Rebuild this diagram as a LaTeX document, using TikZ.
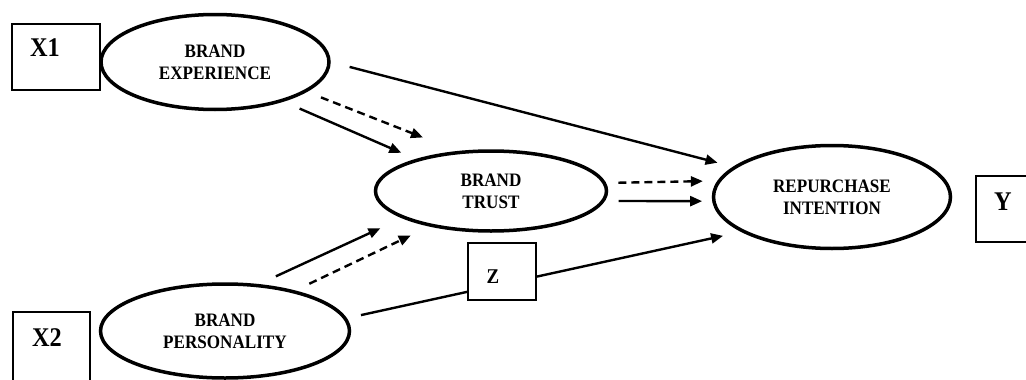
\documentclass[tikz,border=0pt]{standalone}
\usepackage{fontspec}
\setmainfont{Liberation Serif}[FakeStretch=0.9]
\usetikzlibrary{shapes.geometric,arrows.meta}

\begin{document}
\begin{tikzpicture}[x=1pt,y=-1pt,
  construct/.style={ellipse,draw,line width=3.5pt,inner sep=0pt,align=center,
    font=\fontsize{19}{22}\selectfont\bfseries},
  varbox/.style={rectangle,draw,line width=1.2pt,fill=white,inner sep=0pt},
  varname/.style={inner sep=0pt,font=\fontsize{27}{30}\selectfont\bfseries},
  link/.style={line width=2.4pt,-{Triangle[length=12pt,width=10pt]}},
  mlink/.style={link,dash pattern=on 8pt off 5pt}]
\path[use as bounding box,fill=white] (0,0) rectangle (1026,380);

\node[construct,minimum width=228pt,minimum height=95pt] (BE) at (215,62) {BRAND\\EXPERIENCE};
\node[construct,minimum width=231pt,minimum height=80pt] (BT) at (491,191) {BRAND\\TRUST};
\node[construct,minimum width=237pt,minimum height=103pt] (RI) at (832,197) {REPURCHASE\\INTENTION};
\node[construct,minimum width=249pt,minimum height=94pt] (BP) at (225,331) {BRAND\\PERSONALITY};

\node[varbox,minimum width=88pt,minimum height=66pt] (X1) at (56,57) {};
\node[varname] (X1name) at (45,48) {X1};
\node[varbox,minimum width=77pt,minimum height=88pt] (X2) at (51.5,356) {};
\node[varname] (X2name) at (47,338) {X2};
\node[varbox,minimum width=60pt,minimum height=66pt] (Y) at (1006,209) {};
\node[varname] (Yname) at (1003,202) {Y};

% direct and mediated paths
\draw[link,shorten <=19.5pt,shorten >=16pt] (BE.0.5) -- (RI.163);
\draw[mlink,shorten <=15pt,shorten >=37pt] (BE.-18) -- (BT.130.5);
\draw[link,shorten <=17.4pt,shorten >=15.6pt] (BE.-30) -- (BT.157);
\draw[mlink,shorten <=12.3pt,shorten >=14.5pt] (BT.4.5) -- (RI.172.5);
\draw[link,shorten <=13.8pt,shorten >=10pt] (BT.-5.6) -- (RI.182.4);
\draw[link,shorten <=18.5pt,shorten >=23.8pt] (BP.54.4) -- (BT.197);
\draw[mlink,shorten <=15.7pt,shorten >=20.7pt] (BP.30.8) -- (BT.210.8);
\draw[link,shorten <=14.5pt,shorten >=18.5pt] (BP.6.1) -- (RI.201.5);

\node[varbox,minimum width=68pt,minimum height=57pt] (Z) at (502,271.5) {};
\node[varname,font=\fontsize{21}{24}\selectfont\bfseries] (Zname) at (493,277) {Z};

\end{tikzpicture}
\end{document}
